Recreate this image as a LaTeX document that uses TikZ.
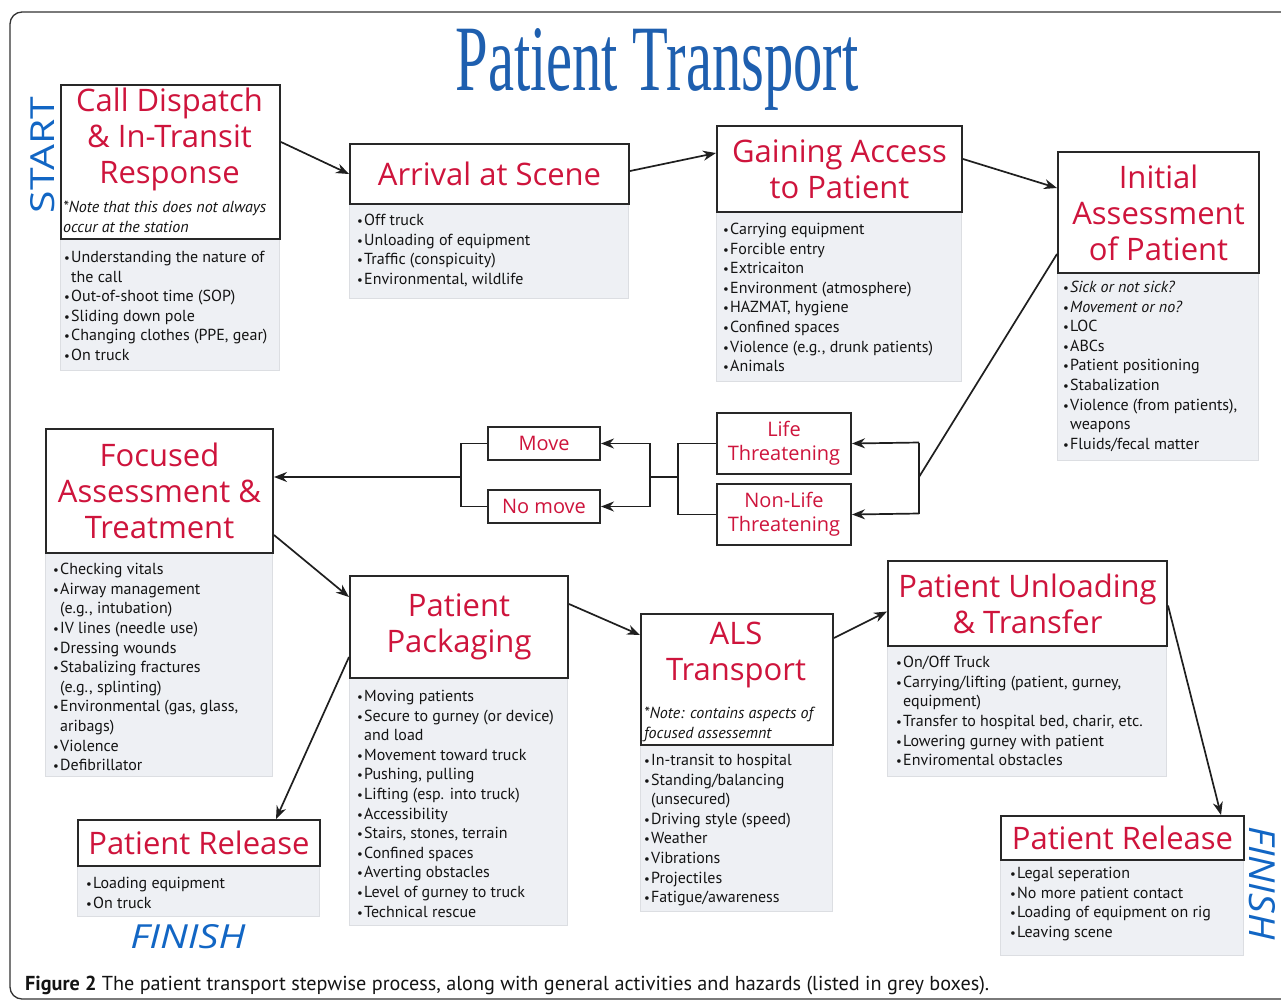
\documentclass[tikz,border=0pt]{standalone}
\usepackage{fontspec}
\usepackage{graphicx}
\setmainfont{PT Sans}
\newfontfamily\hfont{Open Sans}
\newfontfamily\lfont{PT Sans}
\newfontfamily\tfont{Liberation Serif}
\newfontfamily\sfont{Open Sans}
\usetikzlibrary{arrows.meta}
\definecolor{hred}{RGB}{206,20,60}
\definecolor{tblue}{RGB}{30,95,175}
\definecolor{sblue}{RGB}{18,102,196}
\definecolor{gfill}{RGB}{238,240,244}
\definecolor{gedge}{RGB}{220,222,226}
\definecolor{bedge}{RGB}{40,40,40}
\definecolor{lcol}{RGB}{20,20,20}
\newcommand{\bi}{\rule{0pt}{11pt}\makebox[7pt][l]{\scalebox{0.8}{•}}}
\newcommand{\ci}{\hspace*{7pt}}
\begin{document}
\begin{tikzpicture}[x=1pt,y=-1pt,
 hbox/.style={draw=bedge,line width=2pt,fill=white,inner sep=0pt,anchor=north west,text=hred,align=center,font=\hfont\fontsize{31}{36}\selectfont},
 sbox/.style={hbox,font=\hfont\fontsize{20}{24}\selectfont},
 gbox/.style={draw=gedge,line width=0.8pt,fill=gfill,inner sep=0pt,anchor=north west},
 htext/.style={text=hred,font=\hfont\fontsize{31}{36}\selectfont,align=center,inner sep=0pt},
 ltext/.style={text=lcol,font=\lfont\fontsize{16}{19.6}\selectfont,align=left,anchor=north west,inner sep=0pt},
 ntext/.style={text=lcol,font=\lfont\itshape\fontsize{16}{20}\selectfont,align=left,anchor=north west,inner sep=0pt},
 arr/.style={draw=black!88,line width=1.7pt,-{Stealth[length=13pt,width=10pt]}},
 ln/.style={draw=black!88,line width=1.7pt}]
\useasboundingbox (0,0) rectangle (1281,1001);
\fill[white] (0,0) rectangle (1281,1001);
\draw[black!80,line width=1.3pt,rounded corners=12pt] (10,12) rectangle (1300,999);

% title and labels
\node[anchor=base,text=tblue,inner sep=0pt] (title) at (657,90) {\resizebox{403pt}{62pt}{\tfont Patient Transport}};
\node[rotate=90,text=sblue,inner sep=0pt] (start) at (43,155) {\resizebox{116pt}{24pt}{\sfont START}};
\node[text=sblue,inner sep=0pt] (finL) at (188,937) {\resizebox{115pt}{24pt}{\sfont\itshape FINISH}};
\node[rotate=-90,text=sblue,inner sep=0pt] (finR) at (1262,883) {\resizebox{113pt}{26pt}{\sfont\itshape FINISH}};

% grey boxes
\node[gbox,minimum width=219pt,minimum height=132pt] (callG) at (60,238) {};
\node[gbox,minimum width=279pt,minimum height=95pt] (arriveG) at (349,203) {};
\node[gbox,minimum width=245pt,minimum height=170pt] (gainG) at (716,211) {};
\node[gbox,minimum width=201pt,minimum height=188pt] (initG) at (1057,272) {};
\node[gbox,minimum width=227pt,minimum height=224pt] (focG) at (45,552) {};
\node[gbox,minimum width=218pt,minimum height=248pt] (packG) at (349,677) {};
\node[gbox,minimum width=192pt,minimum height=167pt] (alsG) at (640,744) {};
\node[gbox,minimum width=279pt,minimum height=131pt] (unlG) at (887,645) {};
\node[gbox,minimum width=242pt,minimum height=51pt] (relLG) at (77,865) {};
\node[gbox,minimum width=243pt,minimum height=96pt] (relRG) at (1000,859) {};

% heading boxes
\node[hbox,minimum width=219pt,minimum height=154pt] (call) at (60,84) {};
\node[hbox,minimum width=279pt,minimum height=60pt] (arrive) at (349,143) {Arrival at Scene};
\node[hbox,minimum width=245pt,minimum height=86pt] (gain) at (716,125) {Gaining Access\\to Patient};
\node[hbox,minimum width=201pt,minimum height=121pt] (init) at (1057,151) {Initial\\Assessment\\of Patient};
\node[hbox,minimum width=227pt,minimum height=124pt] (foc) at (45,428) {Focused\\Assessment \&\\Treatment};
\node[sbox,minimum width=112pt,minimum height=33pt] (move) at (487,426) {Move};
\node[sbox,minimum width=112pt,minimum height=33pt] (nomove) at (487,489) {No move};
\node[sbox,minimum width=134pt,minimum height=61pt] (life) at (716,412) {Life\\Threatening};
\node[sbox,minimum width=134pt,minimum height=61pt] (nonlife) at (716,483) {Non-Life\\Threatening};
\node[hbox,minimum width=218pt,minimum height=102pt] (pack) at (349,575) {Patient\\Packaging};
\node[hbox,minimum width=192pt,minimum height=131pt] (als) at (640,613) {};
\node[hbox,minimum width=279pt,minimum height=85pt] (unl) at (887,560) {Patient Unloading\\\& Transfer};
\node[hbox,minimum width=242pt,minimum height=46pt] (relL) at (77,819) {Patient Release};
\node[hbox,minimum width=243pt,minimum height=44pt] (relR) at (1000,815) {Patient Release};

% heading texts with notes
\node[htext] (callT) at (169.5,139) {Call Dispatch\\\& In-Transit\\Response};
\node[ntext] (callN) at (63,201) {\rule{0pt}{11pt}*Note that this does not always\\occur at the station};
\node[htext] (alsT) at (736,655) {ALS\\Transport};
\node[ntext] (alsN) at (644,707) {\rule{0pt}{11pt}*Note: contains aspects of\\focused assessemnt};

% lists
\node[ltext] (callL) at (64,251) {\bi Understanding the nature of\\\ci the call\\\bi Out-of-shoot time (SOP)\\\bi Sliding down pole\\\bi Changing clothes (PPE, gear)\\\bi On truck};
\node[ltext] (arriveL) at (357,214) {\bi Off truck\\\bi Unloading of equipment\\\bi Traffic (conspicuity)\\\bi Environmental, wildlife};
\node[ltext] (gainL) at (723,223) {\bi Carrying equipment\\\bi Forcible entry\\\bi Extricaiton\\\bi Environment (atmosphere)\\\bi HAZMAT, hygiene\\\bi Confined spaces\\\bi Violence (e.g., drunk patients)\\\bi Animals};
\node[ltext] (initL) at (1063,281) {\bi \textit{Sick or not sick?}\\\bi \textit{Movement or no?}\\\bi LOC\\\bi ABCs\\\bi Patient positioning\\\bi Stabalization\\\bi Violence (from patients),\\\ci weapons\\\bi Fluids/fecal matter};
\node[ltext] (focL) at (53,563) {\bi Checking vitals\\\bi Airway management\\\ci (e.g., intubation)\\\bi IV lines (needle use)\\\bi Dressing wounds\\\bi Stabalizing fractures\\\ci (e.g., splinting)\\\bi Environmental (gas, glass,\\\ci aribags)\\\bi Violence\\\bi Defibrillator};
\node[ltext] (packL) at (357,690) {\bi Moving patients\\\bi Secure to gurney (or device)\\\ci and load\\\bi Movement toward truck\\\bi Pushing, pulling\\\bi Lifting (esp. into truck)\\\bi Accessibility\\\bi Stairs, stones, terrain\\\bi Confined spaces\\\bi Averting obstacles\\\bi Level of gurney to truck\\\bi Technical rescue};
\node[ltext] (alsL) at (644,754) {\bi In-transit to hospital\\\bi Standing/balancing\\\ci (unsecured)\\\bi Driving style (speed)\\\bi Weather\\\bi Vibrations\\\bi Projectiles\\\bi Fatigue/awareness};
\node[ltext] (unlL) at (896,656) {\bi On/Off Truck\\\bi Carrying/lifting (patient, gurney,\\\ci equipment)\\\bi Transfer to hospital bed, charir, etc.\\\bi Lowering gurney with patient\\\bi Enviromental obstacles};
\node[ltext] (relLL) at (86,877) {\bi Loading equipment\\\bi On truck};
\node[ltext] (relRL) at (1010,867) {\bi Legal seperation\\\bi No more patient contact\\\bi Loading of equipment on rig\\\bi Leaving scene};

% connectors
\draw[arr] ([yshift=-58pt]call.north east) -- (arrive.west);
\draw[arr] ([yshift=3pt]arrive.east) -- ([yshift=16pt]gain.west);
\draw[arr] ([yshift=10pt]gain.east) -- ([yshift=24.5pt]init.west);
\coordinate (jR) at (919,477);
\coordinate (jRt) at (919,442.5);
\coordinate (jRb) at (919,513.5);
\draw[ln] ([yshift=-41.5pt]init.west) -- (jR);
\draw[ln] (jRt) -- (jRb);
\draw[arr] (jRt) -- (life.east);
\draw[arr] (jRb) -- (nonlife.east);
\coordinate (jL) at (678,477);
\draw[ln] (life.west) -| (jL) |- (nonlife.west);
\coordinate (jM) at (650,477);
\draw[ln] (jL) -- (jM);
\draw[arr] (jM) |- (move.east);
\draw[arr] (jM) |- (nomove.east);
\coordinate (jK) at (461,477);
\draw[ln] (move.west) -| (jK) |- (nomove.west);
\draw[arr] (jK) -- (jK -| foc.east);
\draw[arr] ([yshift=-44pt]foc.east) -- ([yshift=30pt]pack.west);
\draw[arr] ([yshift=-30pt]pack.west) -- ([xshift=77pt]relL.north);
\draw[arr] ([yshift=23pt]pack.east) -- ([yshift=44.5pt]als.west);
\draw[arr] ([yshift=41.5pt]als.east) -- ([yshift=-8pt]unl.west);
\draw[arr] ([yshift=-2pt]unl.east) -- ([xshift=98.5pt]relR.north);

% caption
\node[anchor=base west,inner sep=0pt,text=lcol,font=\lfont\fontsize{20.2}{24}\selectfont] (cap) at (25,990) {\textbf{Figure 2} The patient transport stepwise process, along with general activities and hazards (listed in grey boxes).};
\end{tikzpicture}
\end{document}
